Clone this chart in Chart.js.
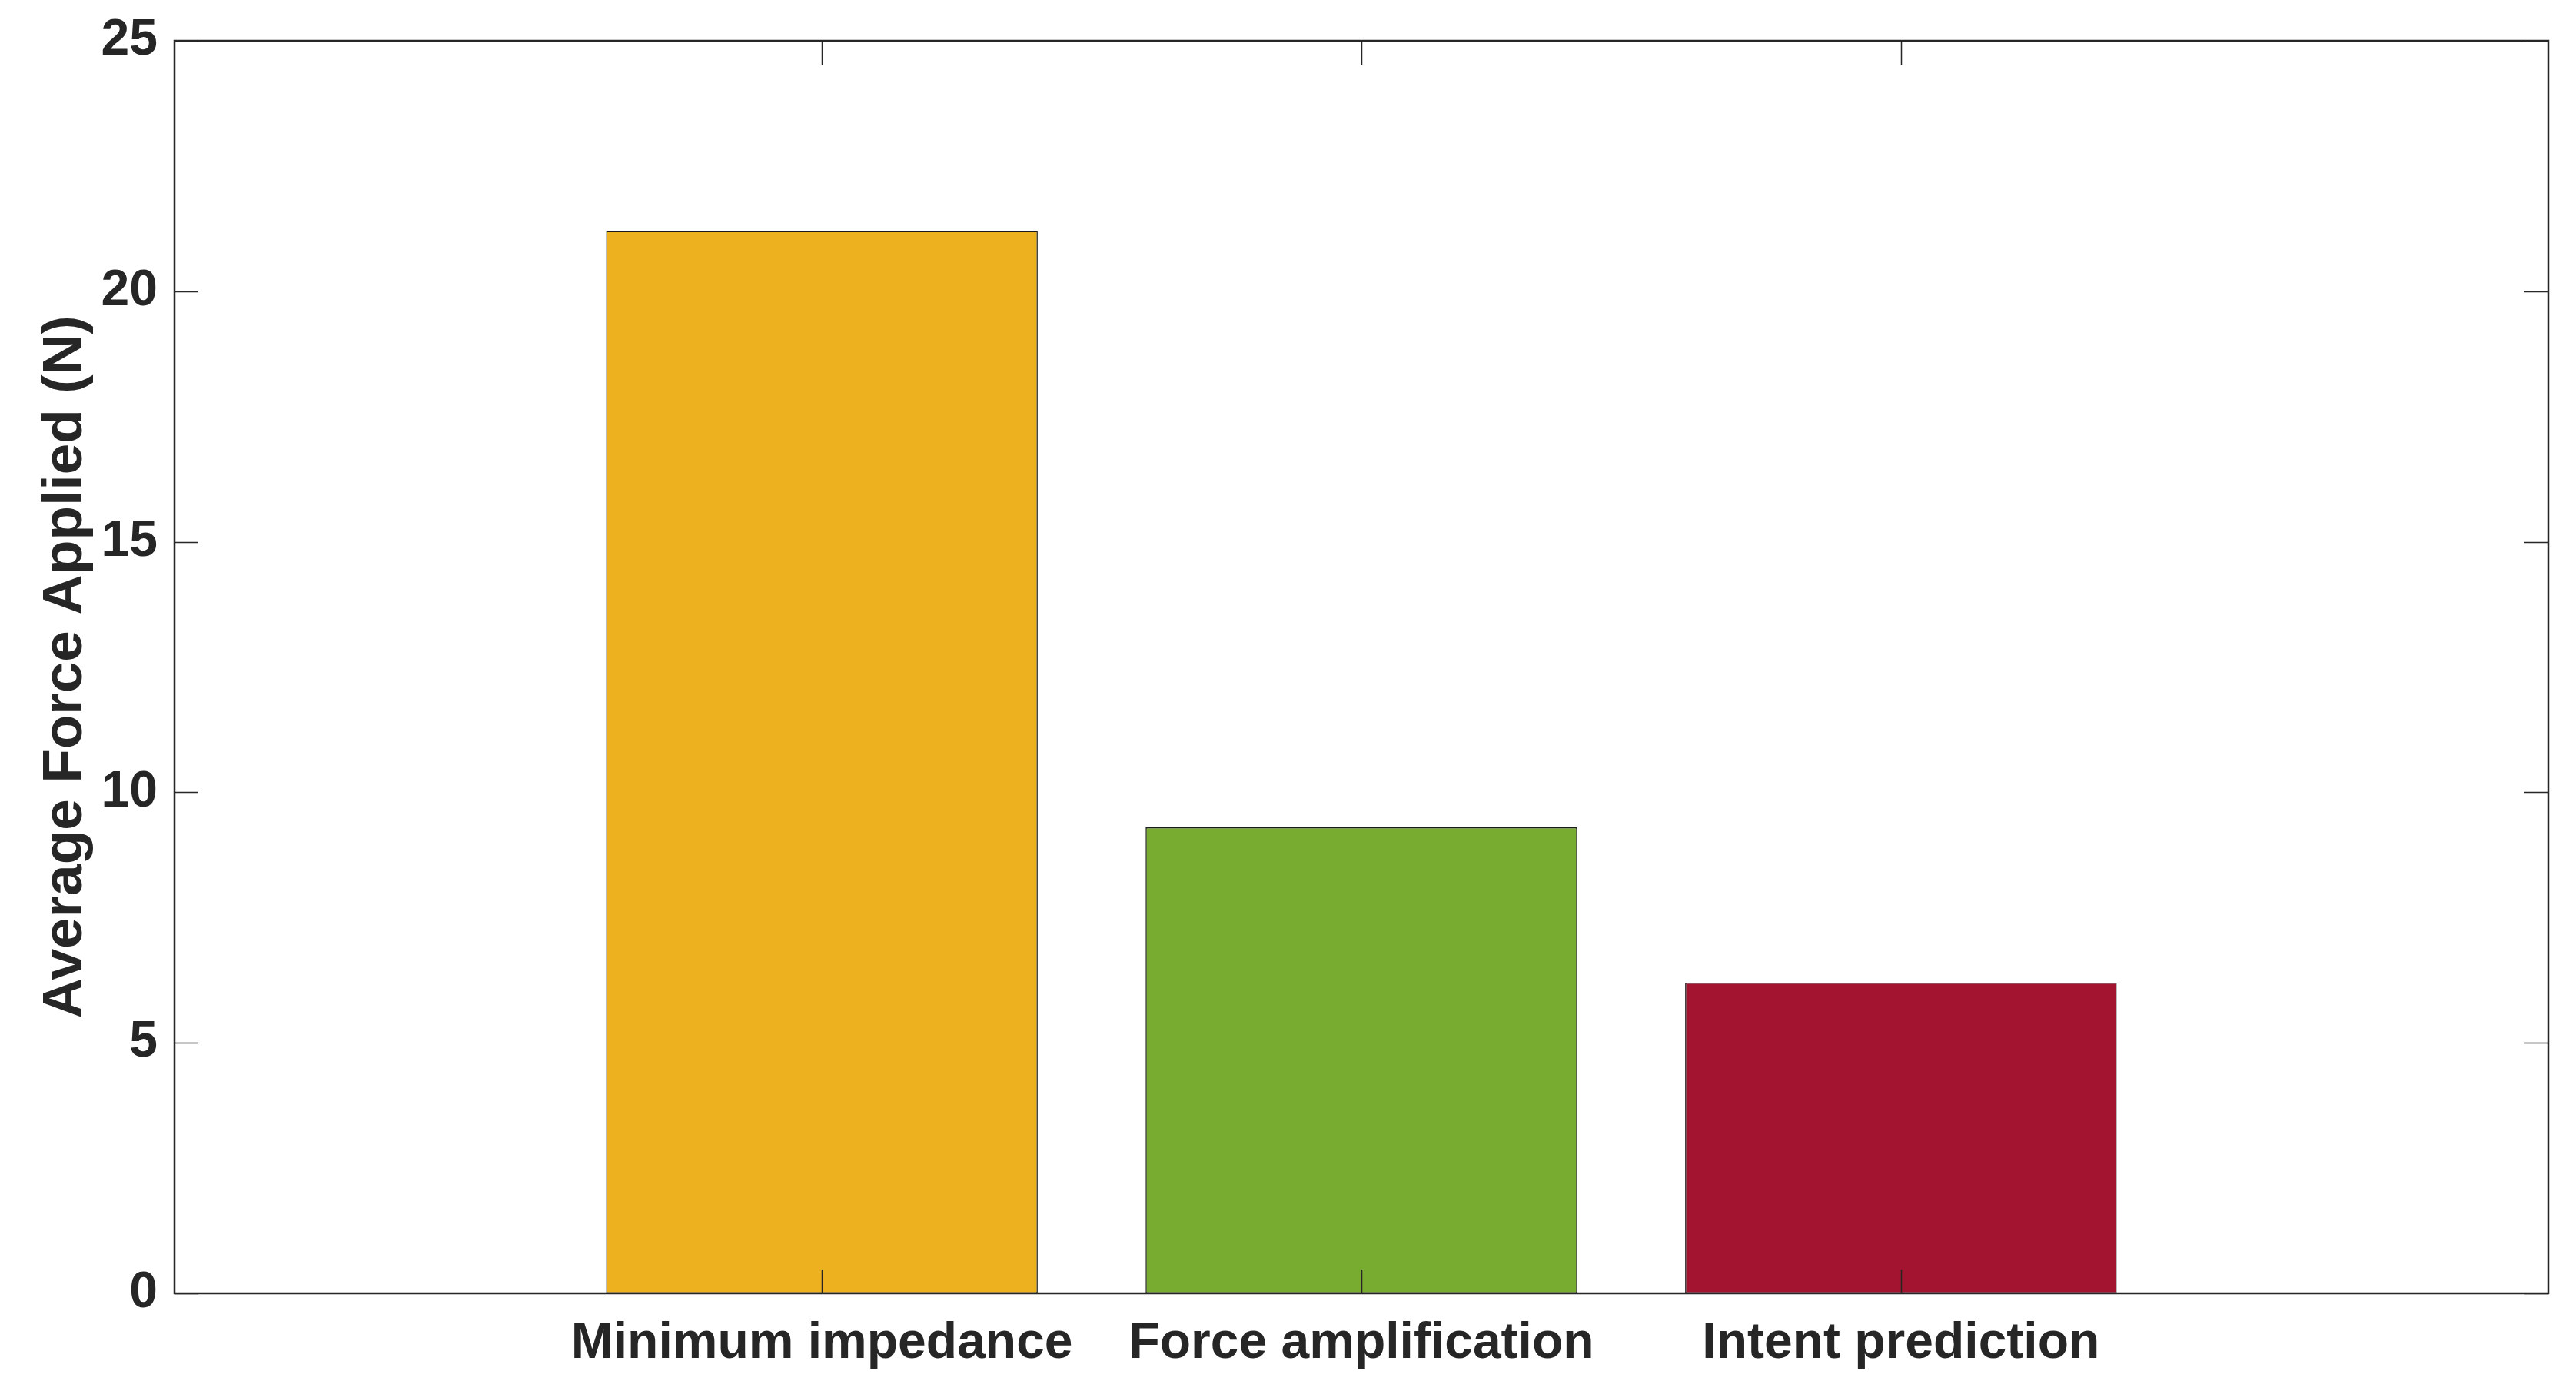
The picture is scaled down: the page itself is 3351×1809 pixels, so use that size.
<!DOCTYPE html>
<html>
<head>
<meta charset="utf-8">
<script src="https://cdn.jsdelivr.net/npm/chart.js@4.4.1/dist/chart.umd.min.js"></script>
<style>
  html, body { margin: 0; padding: 0; background: #fff; }
  #chart { display: block; }
</style>
</head>
<body>
<canvas id="chart" width="3351" height="1809" style="width:3351px;height:1809px"></canvas>
<script>
// data
const categories = ["Minimum impedance", "Force amplification", "Intent prediction"];
const forceValues = [21.2, 9.3, 6.2];
const barColors = ["#EDB120", "#77AC30", "#A2142F"];
const yTicks = [0, 5, 10, 15, 20, 25];

const textColor = "#262626";
const fontFamily = "'Liberation Sans', Arial, Helvetica, sans-serif";

// box round the plot and inward ticks, MATLAB style
const frame = {
  id: "frame",
  afterDatasetsDraw(chart) {
    const { ctx, chartArea: a, scales: { x, y } } = chart;
    const len = 31;
    ctx.save();
    ctx.strokeStyle = textColor;
    ctx.lineWidth = 1.5;
    ctx.beginPath();
    x.ticks.forEach(t => {
      const px = Math.round(x.getPixelForValue(t.value)) + 0.5;
      ctx.moveTo(px, a.bottom); ctx.lineTo(px, a.bottom - len);
      ctx.moveTo(px, a.top); ctx.lineTo(px, a.top + len);
    });
    y.ticks.forEach(t => {
      const py = Math.round(y.getPixelForValue(t.value)) + 0.5;
      ctx.moveTo(a.left, py); ctx.lineTo(a.left + len, py);
      ctx.moveTo(a.right, py); ctx.lineTo(a.right - len, py);
    });
    ctx.stroke();
    ctx.lineWidth = 2.5;
    ctx.strokeRect(a.left, a.top, a.right - a.left, a.bottom - a.top);
    ctx.restore();
  }
};

new Chart(document.getElementById("chart").getContext("2d"), {
  type: "bar",
  data: {
    datasets: [{
      data: forceValues.map((v, i) => ({ x: i + 1, y: v })),
      backgroundColor: barColors,
      borderColor: "#1a1a1a",
      borderWidth: 1.5,
      borderSkipped: false,
      categoryPercentage: 1.0,
      barPercentage: 0.8
    }]
  },
  options: {
    responsive: false,
    devicePixelRatio: 1,
    animation: false,
    layout: { padding: { top: 53, right: 36, left: 0, bottom: 0 } },
    plugins: { legend: { display: false }, tooltip: { enabled: false } },
    scales: {
      x: {
        type: "linear",
        min: -0.2,
        max: 4.2,
        offset: false,
        grid: { display: false, drawTicks: false, offset: false },
        border: { display: false },
        afterBuildTicks: s => { s.ticks = categories.map((c, i) => ({ value: i + 1 })); },
        afterFit: s => { s.height = 1809 - 1682; s.paddingLeft = 0; s.paddingRight = 0; },
        ticks: {
          padding: 26,
          color: textColor,
          font: { family: fontFamily, size: 66, weight: "bold" },
          maxRotation: 0,
          autoSkip: false,
          callback: v => categories[v - 1]
        }
      },
      y: {
        min: 0,
        max: 25,
        grid: { display: false, drawTicks: false },
        border: { display: false },
        afterBuildTicks: s => { s.ticks = yTicks.map(v => ({ value: v })); },
        afterFit: s => { s.width = 227; s.paddingTop = 0; s.paddingBottom = 0; },
        ticks: {
          padding: 22,
          color: textColor,
          font: { family: fontFamily, size: 66, weight: "bold" }
        },
        title: {
          display: true,
          text: "Average Force Applied (N)",
          color: textColor,
          font: { family: fontFamily, size: 73, weight: "bold" },
          padding: { top: 42, bottom: 0 }
        }
      }
    }
  },
  plugins: [frame]
});
</script>
</body>
</html>
